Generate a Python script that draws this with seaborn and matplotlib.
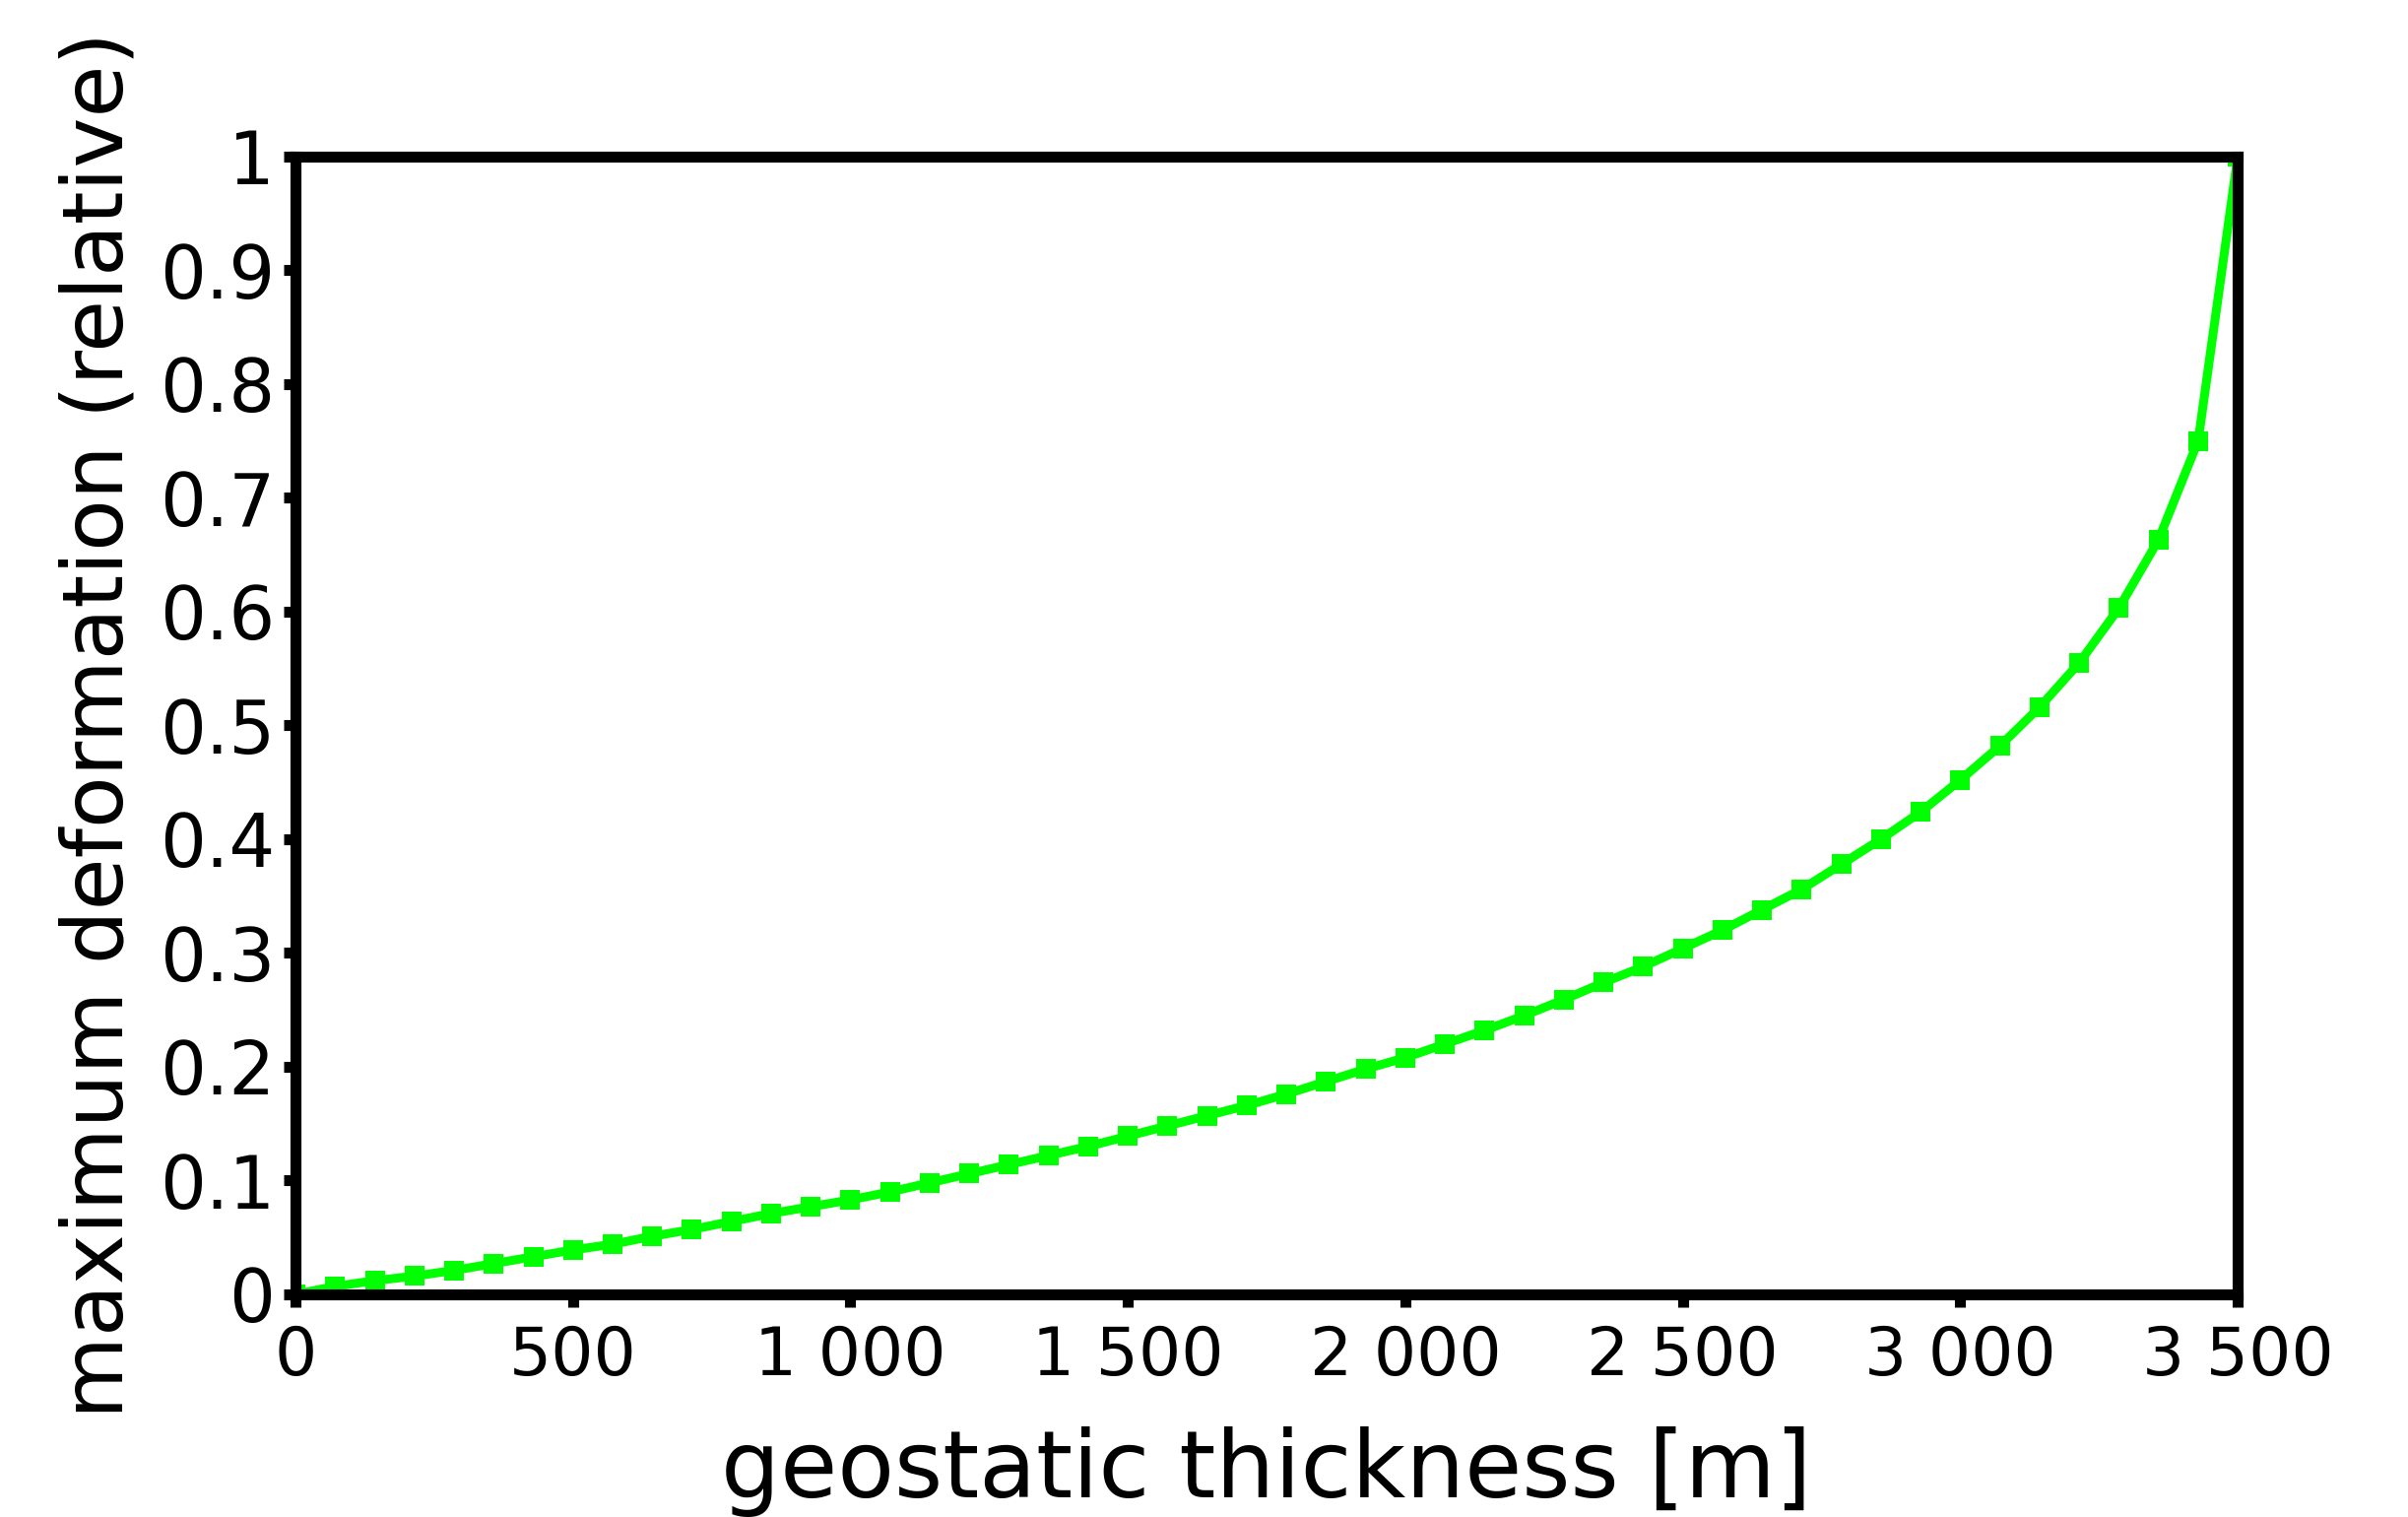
import numpy as np
import pandas as pd
import matplotlib
matplotlib.use('Agg')
import matplotlib.pyplot as plt
from matplotlib.ticker import FuncFormatter, MultipleLocator
import seaborn as sns

sns.set_style('white')
plt.rcParams['font.family'] = ['DejaVu Sans']

# geostatic thickness [m], 50 evenly spaced samples
thickness = [0, 71.4, 142.9, 214.3, 285.7, 357.1, 428.6, 500.0, 571.4, 642.9,
             714.3, 785.7, 857.1, 928.6, 1000.0, 1071.4, 1142.9, 1214.3, 1285.7, 1357.1,
             1428.6, 1500.0, 1571.4, 1642.9, 1714.3, 1785.7, 1857.1, 1928.6, 2000.0, 2071.4,
             2142.9, 2214.3, 2285.7, 2357.1, 2428.6, 2500.0, 2571.4, 2642.9, 2714.3, 2785.7,
             2857.1, 2928.6, 3000.0, 3071.4, 3142.9, 3214.3, 3285.7, 3357.1, 3428.6, 3500.0]
# maximum deformation (relative)
deformation = [0.0, 0.007, 0.012, 0.016, 0.021, 0.027, 0.033, 0.039, 0.044, 0.051,
               0.057, 0.064, 0.071, 0.077, 0.083, 0.090, 0.098, 0.106, 0.114, 0.122,
               0.130, 0.139, 0.148, 0.157, 0.166, 0.176, 0.187, 0.198, 0.208, 0.220,
               0.232, 0.245, 0.259, 0.274, 0.288, 0.304, 0.320, 0.338, 0.356, 0.378,
               0.400, 0.424, 0.452, 0.482, 0.516, 0.555, 0.603, 0.663, 0.750, 1.0]

df = pd.DataFrame({'thickness': thickness, 'deformation': deformation})

fig = plt.figure(figsize=(24.45, 15.4), dpi=100)
ax = fig.add_axes([0.1227, 0.1468, 0.8066, 0.75])

sns.lineplot(data=df, x='thickness', y='deformation', ax=ax, color='#00ff00',
             linewidth=6.5, marker='s', markersize=15, markeredgewidth=0,
             markerfacecolor='#00ff00', zorder=2)

ax.set_xlim(0, 3500)
ax.set_ylim(0, 1)
ax.xaxis.set_major_locator(MultipleLocator(500))
ax.yaxis.set_major_locator(MultipleLocator(0.1))
ax.xaxis.set_major_formatter(FuncFormatter(lambda v, p: f"{int(round(v)):,}".replace(',', ' ')))
ax.yaxis.set_major_formatter(FuncFormatter(lambda v, p: f"{v:.1f}".rstrip('0').rstrip('.') if v else '0'))

for s in ax.spines.values():
    s.set_color('black')
    s.set_linewidth(8)
    s.set_zorder(3)

ax.tick_params(axis='both', which='major', direction='out', length=9, width=8,
               color='black', labelcolor='black',
               bottom=True, left=True, top=False, right=False)
ax.tick_params(axis='x', pad=13, labelsize=49)
ax.tick_params(axis='y', pad=6, labelsize=53)

ax.set_xlabel('geostatic thickness [m]', fontsize=68, labelpad=27, color='black')
ax.set_ylabel('maximum deformation (relative)', fontsize=62, labelpad=14, color='black')

fig.savefig('out.png', dpi=100, facecolor='white')
